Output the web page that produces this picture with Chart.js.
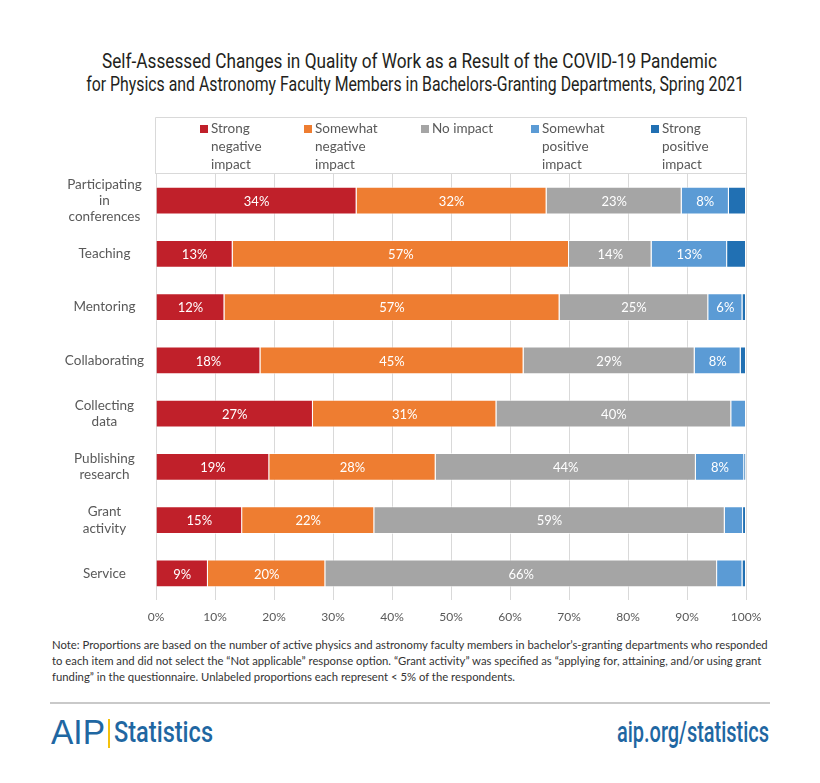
<!DOCTYPE html>
<html>
<head>
<meta charset="utf-8">
<script src="https://cdn.jsdelivr.net/npm/chart.js@4.4.0/dist/chart.umd.min.js"></script>
<style>
  body { margin: 0; background: #fff; width: 820px; height: 783px; position: relative; overflow: hidden; }
  .riga-titolo { position: absolute; left: 0; width: 820px; text-align: center; white-space: nowrap;
    font-family: Roboto, sans-serif; font-size: 20px; color: #231f20; }
  .riga-titolo span { display: inline-block; transform-origin: center; }
  #box { position: absolute; top: 110px; left: 0; width: 820px; height: 522px; }
  #nota { position: absolute; top: 637px; left: 52px; width: 730px; font-family: Lato, sans-serif;
    font-size: 11.3px; line-height: 16px; color: #333; }
  #riga { position: absolute; top: 702px; left: 50px; width: 720px; height: 2px; background: #c9c9c9; }
  .stretta { position: absolute; white-space: nowrap; transform-origin: left center; color: #1f67a2; }
  #logo { top: 712px; left: 51px; font-family: "Liberation Sans", sans-serif; font-size: 35px; }
  #barra { position: absolute; top: 719px; left: 108px; width: 2px; height: 29px; background: #f4c20d; }
  #stat { top: 715px; left: 114px; font-family: Roboto, sans-serif; font-weight: 500; font-size: 29px; }
  #sito { top: 715px; left: 617px; font-family: Roboto, sans-serif; font-weight: 500; font-size: 29px; }
</style>
</head>
<body>
<div class="riga-titolo" style="top:49px"><span data-w="615">Self-Assessed Changes in Quality of Work as a Result of the COVID-19 Pandemic</span></div>
<div class="riga-titolo" style="top:72px"><span data-w="658">for Physics and Astronomy Faculty Members in Bachelors-Granting Departments, Spring 2021</span></div>
<div id="box"><canvas id="myChart" width="820" height="522"></canvas></div>
<div id="nota">Note: Proportions are based on the number of active physics and astronomy faculty members in bachelor’s-granting departments who responded<br>to each item and did not select the “Not applicable” response option. “Grant activity” was specified as “applying for, attaining, and/or using grant<br>funding” in the questionnaire. Unlabeled proportions each represent &lt; 5% of the respondents.</div>
<div id="riga"></div>
<div id="logo" class="stretta" data-w="54">AIP</div>
<div id="barra"></div>
<div id="stat" class="stretta" data-w="99">Statistics</div>
<div id="sito" class="stretta" data-w="152">aip.org/statistics</div>

<script>
var categorie = [
    ["Participating", "in", "conferences"],
    "Teaching",
    "Mentoring",
    "Collaborating",
    ["Collecting", "data"],
    ["Publishing", "research"],
    ["Grant", "activity"],
    "Service"
];
var forteNeg = [34, 13, 11.6, 17.7, 26.6, 19.2, 14.6, 8.8];
var pocoNeg = [32.2, 57, 56.8, 44.6, 31.1, 28.2, 22.4, 19.9];
var nessuno = [22.9, 14, 25.2, 29.0, 39.8, 44.1, 59.4, 66.4];
var pocoPos = [8, 12.8, 5.8, 7.8, 2.5, 8.2, 3.1, 4.3];
var fortePos = [2.9, 3.2, 0.6, 0.9, 0, 0.3, 0.5, 0.6];
var tickX = ["0%", "10%", "20%", "30%", "40%", "50%", "60%", "70%", "80%", "90%", "100%"];

var legendaTesti = [
    ["Strong", "negative", "impact"],
    ["Somewhat", "negative", "impact"],
    ["No impact"],
    ["Somewhat", "positive", "impact"],
    ["Strong", "positive", "impact"]
];
var colori = ['#c0202a', '#ee7d31', '#a5a5a5', '#5b9bd5', '#2170b3'];
var legendaX = [211, 315, 432, 542, 662];

// stringe i testi alla larghezza voluta
document.querySelectorAll('[data-w]').forEach(function (el) {
    var w = el.getBoundingClientRect().width;
    el.style.transform = 'scaleX(' + (parseFloat(el.dataset.w) / w) + ')';
});

// etichette bianche dentro le barre
const etichette = {
    id: 'etichette',
    afterDatasetsDraw(chart) {
        const ctx = chart.ctx;
        ctx.save();
        ctx.font = '13px Lato';
        ctx.fillStyle = '#fff';
        ctx.textAlign = 'center';
        ctx.textBaseline = 'middle';
        chart.data.datasets.forEach(function (ds, i) {
            chart.getDatasetMeta(i).data.forEach(function (bar, j) {
                var v = Math.round(ds.data[j]);
                if (v >= 5) {
                    ctx.fillText(v + '%', (bar.x + bar.base) / 2, bar.y + 1);
                }
            });
        });
        ctx.restore();
    }
};

// legenda nel riquadro sopra il grafico
const legenda = {
    id: 'legenda',
    afterDraw(chart) {
        const ctx = chart.ctx;
        const a = chart.chartArea;
        ctx.save();
        ctx.strokeStyle = '#d9d9d9';
        ctx.lineWidth = 1;
        ctx.beginPath();
        ctx.moveTo(a.left - 0.5, a.top);
        ctx.lineTo(a.left - 0.5, 7.5);
        ctx.lineTo(a.right + 0.5, 7.5);
        ctx.lineTo(a.right + 0.5, a.top);
        ctx.moveTo(a.left - 0.5, a.top - 0.5);
        ctx.lineTo(a.right + 0.5, a.top - 0.5);
        ctx.stroke();
        ctx.font = '13.5px Lato';
        ctx.textBaseline = 'middle';
        ctx.textAlign = 'left';
        for (var i = 0; i < legendaTesti.length; i++) {
            ctx.fillStyle = colori[i];
            ctx.fillRect(legendaX[i] - 11, 15, 8, 8);
            ctx.fillStyle = '#595959';
            for (var k = 0; k < legendaTesti[i].length; k++) {
                ctx.fillText(legendaTesti[i][k], legendaX[i], 19 + k * 18);
            }
        }
        ctx.restore();
    }
};

var serie = [forteNeg, pocoNeg, nessuno, pocoPos, fortePos];
var datasets = [];
for (var i = 0; i < serie.length; i++) {
    datasets.push({
        label: legendaTesti[i].join(' '),
        data: serie[i],
        backgroundColor: colori[i],
        borderColor: 'rgba(255,255,255,0.6)',
        borderWidth: 1,
        barPercentage: 0.52,
        categoryPercentage: 1
    });
}

const ctx = document.getElementById('myChart').getContext('2d');
const myChart = new Chart(ctx, {
    type: 'bar',
    data: { labels: categorie, datasets: datasets },
    options: {
        indexAxis: 'y',
        responsive: false,
        animation: false,
        layout: { padding: { left: 0, right: 74, top: 64, bottom: 0 } },
        plugins: {
            legend: { display: false },
            tooltip: { enabled: false }
        },
        scales: {
            x: {
                stacked: true,
                min: 0,
                max: 100,
                afterFit: function (s) { s.height = 32; },
                afterBuildTicks: function (s) {
                    s.ticks = tickX.map(function (t, i) { return { value: i * 10 }; });
                },
                ticks: {
                    callback: function (v, i) { return tickX[i]; },
                    color: '#595959',
                    font: { family: 'Lato', size: 12 },
                    padding: 10,
                    maxRotation: 0
                },
                grid: { color: '#d9d9d9', drawTicks: false },
                border: { display: false }
            },
            y: {
                stacked: true,
                afterFit: function (s) { s.width = 156; },
                ticks: {
                    color: '#595959',
                    font: { family: 'Lato', size: 13.5 },
                    crossAlign: 'center',
                    padding: 4,
                    lineHeight: 1.27
                },
                grid: { display: false },
                border: { display: false }
            }
        }
    },
    plugins: [etichette, legenda]
});
</script>
</body>
</html>
